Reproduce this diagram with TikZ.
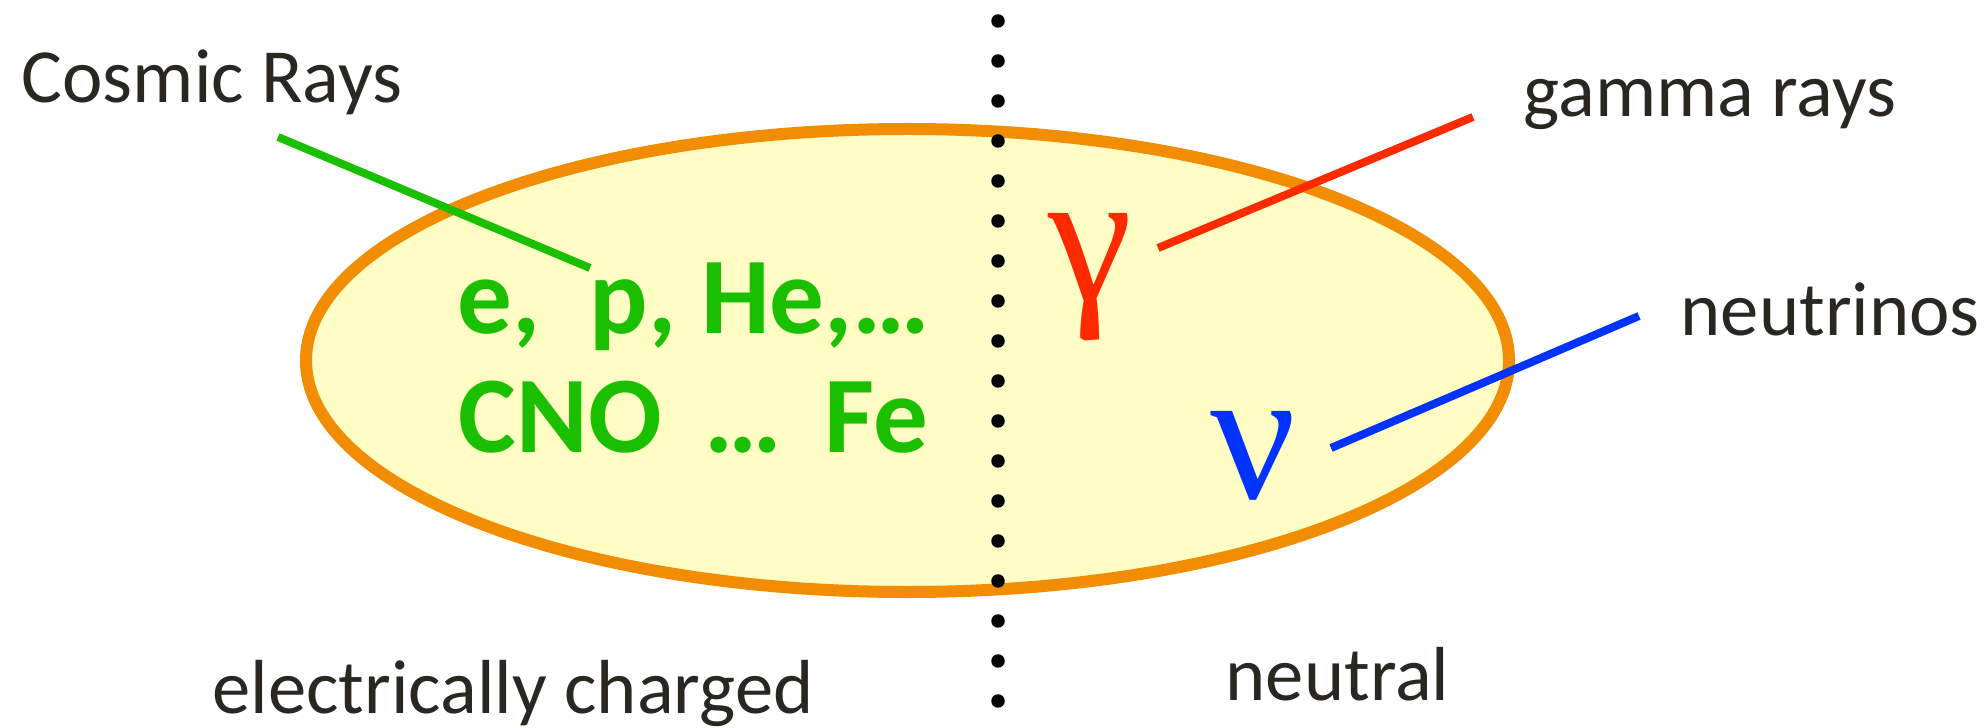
\documentclass[tikz,border=0pt]{standalone}
\usepackage{fontspec}
\setmainfont{Carlito}
\newfontfamily\greekfont{Liberation Serif}
\usetikzlibrary{shapes.geometric}
\definecolor{rimorange}{RGB}{242,140,0}
\definecolor{blobfill}{RGB}{255,252,196}
\definecolor{crgreen}{RGB}{26,192,0}
\definecolor{gamred}{RGB}{255,42,0}
\definecolor{nublue}{RGB}{0,51,255}
\definecolor{inkgray}{RGB}{42,38,34}
\begin{document}
\begin{tikzpicture}[x=1cm,y=1cm,
  lbl/.style={anchor=base west, inner sep=0pt, text=inkgray, font=\fontsize{21.8}{26}\selectfont},
  particles/.style={anchor=base west, inner sep=0pt, text=crgreen, font=\fontsize{31}{37}\selectfont\bfseries},
  greek/.style={anchor=base, inner sep=0pt, font=\greekfont\fontsize{54}{60}\selectfont},
  wire/.style={line width=0.08cm}]
\useasboundingbox (0,0) rectangle (19.84,-7.28);
\node[draw=rimorange, fill=blobfill, line width=0.12cm, ellipse, minimum width=12.03cm, minimum height=4.63cm, inner sep=0pt] (blob) at (9.075,-3.605) {};
\coordinate (divtop) at (9.98,-0.21);
\coordinate (divbot) at (9.98,-7.01);
\draw[line width=0.135cm, line cap=round, dash pattern=on 0pt off 0.4cm] (divtop) -- (divbot);
\node[lbl] (crlabel) at (0.21,-1.03) {Cosmic Rays};
\node[particles] (light) at (4.57,-3.34) {e,\ \ p, He,…};
\node[particles] (heavy) at (4.58,-4.52) {CNO \,…\, Fe};
\node[greek, text=gamred] (gam) at (10.90,-3.01) {γ};
\node[greek, text=nublue] (nu) at (12.53,-4.98) {ν};
\node[lbl] (gamlabel) at (15.23,-1.17) {gamma rays};
\node[lbl] (nulabel) at (16.80,-3.36) {neutrinos};
\node[lbl] (chlabel) at (2.12,-7.13) {electrically charged};
\node[lbl] (neulabel) at (12.25,-7.00) {neutral};
\coordinate (crtail) at (2.78,-1.37);
\coordinate (crhead) at (5.90,-2.68);
\coordinate (gamtail) at (14.73,-1.17);
\coordinate (gamhead) at (11.58,-2.48);
\coordinate (nutail) at (16.39,-3.16);
\coordinate (nuhead) at (13.31,-4.48);
\draw[wire, crgreen] (crtail) -- (crhead);
\draw[wire, gamred] (gamtail) -- (gamhead);
\draw[wire, nublue] (nutail) -- (nuhead);
\end{tikzpicture}
\end{document}
